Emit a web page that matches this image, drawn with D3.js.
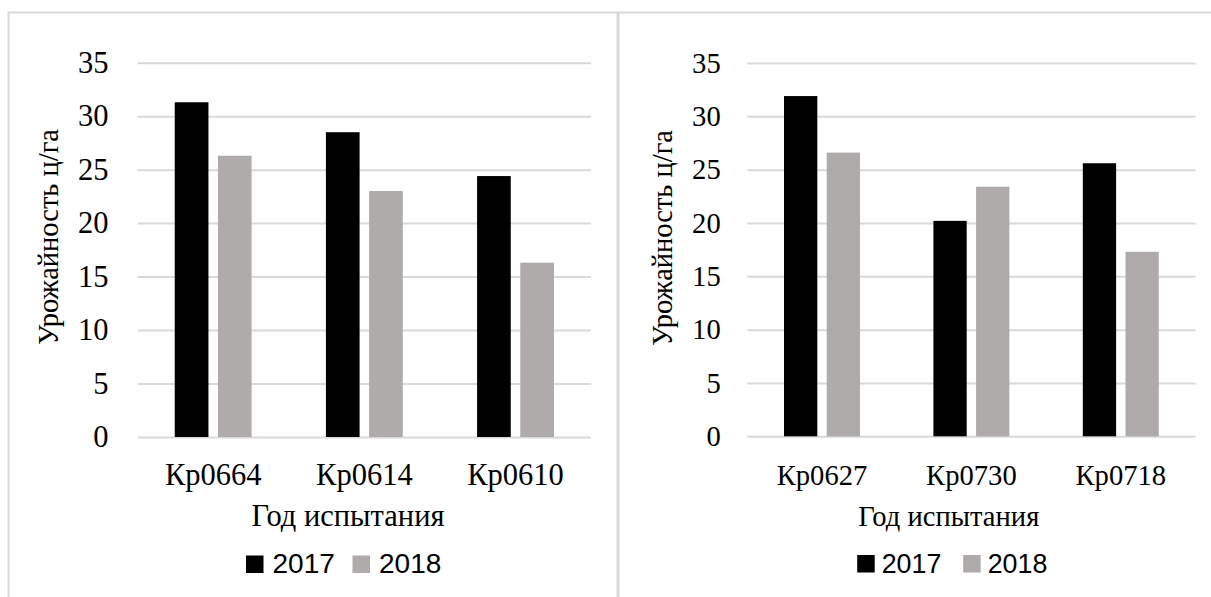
<!DOCTYPE html>
<html>
<head>
<meta charset="utf-8">
<script src="https://cdn.jsdelivr.net/npm/d3@7"></script>
</head>
<body style="margin:0">
<svg id="chart" width="1211" height="597"></svg>
<script>
// Yield by variety, two test years
const seriesNames = ["2017", "2018"];
const yTicks = [0, 5, 10, 15, 20, 25, 30, 35];

const categoriesA = ["Кр0664", "Кр0614", "Кр0610"];
const values2017A = [31.3, 28.5, 24.4];
const values2018A = [26.3, 23.0, 16.3];

const categoriesB = ["Кр0627", "Кр0730", "Кр0718"];
const values2017B = [31.9, 20.2, 25.6];
const values2018B = [26.6, 23.4, 17.3];

const yTitle = "Урожайность ц/га";
const xTitle = "Год испытания";

const colors = { "2017": "#000000", "2018": "#AFABAB" };
const gridColor = "#D9D9D9";
const serifFace = '"Liberation Serif"';
const sansFace = '"Liberation Sans"';

// text styling helper: inline, important, so nothing overrides the face
function face(sel, family, size) {
  sel.style("font-family", family, "important")
     .style("font-size", size + "px", "important")
     .style("fill", "#000");
}

const svg = d3.select("#chart");

// frame around both panels
svg.append("path")
  .attr("d", "M8.5,597 V12.5 H1211")
  .attr("fill", "none").attr("stroke", gridColor).attr("stroke-width", 2);
svg.append("line")
  .attr("x1", 618).attr("x2", 618).attr("y1", 12).attr("y2", 597)
  .attr("stroke", gridColor).attr("stroke-width", 3);

function drawPanel(cfg, categories, v2017, v2018) {
  const rows = categories.map((c, i) => ({ cat: c, "2017": v2017[i], "2018": v2018[i] }));
  const g = svg.append("g");

  const y = d3.scaleLinear().domain([0, 35]).range([cfg.bottom, cfg.top]);
  const x0 = d3.scaleBand().domain(categories).range([cfg.left, cfg.right]).padding(0);
  const x1 = d3.scaleBand().domain(seriesNames).range([0, x0.bandwidth()])
    .paddingInner(0.22).paddingOuter(0.86);

  // value axis with gridlines
  const yAxis = g.append("g")
    .attr("transform", `translate(${cfg.left},0)`)
    .call(d3.axisLeft(y).tickValues(yTicks).tickFormat(d3.format("d"))
      .tickSize(-(cfg.right - cfg.left)).tickPadding(cfg.tickPad));
  yAxis.attr("font-family", null).attr("font-size", null);
  yAxis.select(".domain").remove();
  yAxis.selectAll(".tick line").attr("stroke", gridColor).attr("stroke-width", 2);
  face(yAxis.selectAll(".tick text"), serifFace, cfg.fs);

  // bars
  g.append("g").selectAll("g")
    .data(rows).join("g")
    .attr("transform", d => `translate(${x0(d.cat)},0)`)
    .selectAll("rect")
    .data(d => seriesNames.map(s => ({ s, v: d[s] })))
    .join("rect")
    .attr("x", d => x1(d.s))
    .attr("width", x1.bandwidth())
    .attr("y", d => y(d.v))
    .attr("height", d => y(0) - y(d.v))
    .attr("fill", d => colors[d.s]);

  // category axis
  const xAxis = g.append("g")
    .attr("transform", `translate(0,${cfg.bottom})`)
    .call(d3.axisBottom(x0).tickSize(0).tickPadding(0));
  xAxis.attr("font-family", null).attr("font-size", null);
  xAxis.select(".domain").remove();
  const catText = xAxis.selectAll(".tick text")
    .attr("y", cfg.catBase - cfg.bottom).attr("dy", null);
  face(catText, serifFace, cfg.fs);

  // axis titles
  const xt = g.append("text")
    .attr("x", cfg.xTitleX).attr("y", cfg.xTitleBase)
    .attr("text-anchor", "middle")
    .text(xTitle);
  face(xt, serifFace, cfg.fs);

  const yt = g.append("text")
    .attr("transform", `translate(${cfg.yTitleX},${cfg.yTitleY}) rotate(-90)`)
    .attr("text-anchor", "middle")
    .text(yTitle);
  face(yt, serifFace, cfg.yfs);

  // legend
  const lg = g.append("g").attr("transform", `translate(${cfg.legendX},${cfg.legendBase})`);
  const item = lg.selectAll("g").data(seriesNames).join("g")
    .attr("transform", (d, i) => `translate(${i * cfg.legendStep},0)`);
  item.append("rect")
    .attr("x", 0).attr("y", -cfg.sq).attr("width", cfg.sq).attr("height", cfg.sq)
    .attr("fill", d => colors[d]);
  const lt = item.append("text")
    .attr("x", cfg.sq + cfg.legendGap).attr("y", 0)
    .text(d => d);
  face(lt, sansFace, cfg.lfs);
}

drawPanel({
  left: 137.6, right: 591.1, top: 62.7, bottom: 437,
  fs: 30.5, yfs: 28.5, tickPad: 29,
  catBase: 485, xTitleX: 348, xTitleBase: 526,
  yTitleX: 58, yTitleY: 237,
  legendX: 246, legendBase: 573, legendStep: 106.5, sq: 17.5, legendGap: 9, lfs: 28
}, categoriesA, values2017A, values2018A);

drawPanel({
  left: 747.3, right: 1195.5, top: 63, bottom: 436.3,
  fs: 28.6, yfs: 28.5, tickPad: 26.6,
  catBase: 485, xTitleX: 948.8, xTitleBase: 526,
  yTitleX: 672, yTitleY: 238,
  legendX: 857.2, legendBase: 572.5, legendStep: 106, sq: 17.5, legendGap: 7, lfs: 26.8
}, categoriesB, values2017B, values2018B);
</script>
</body>
</html>
